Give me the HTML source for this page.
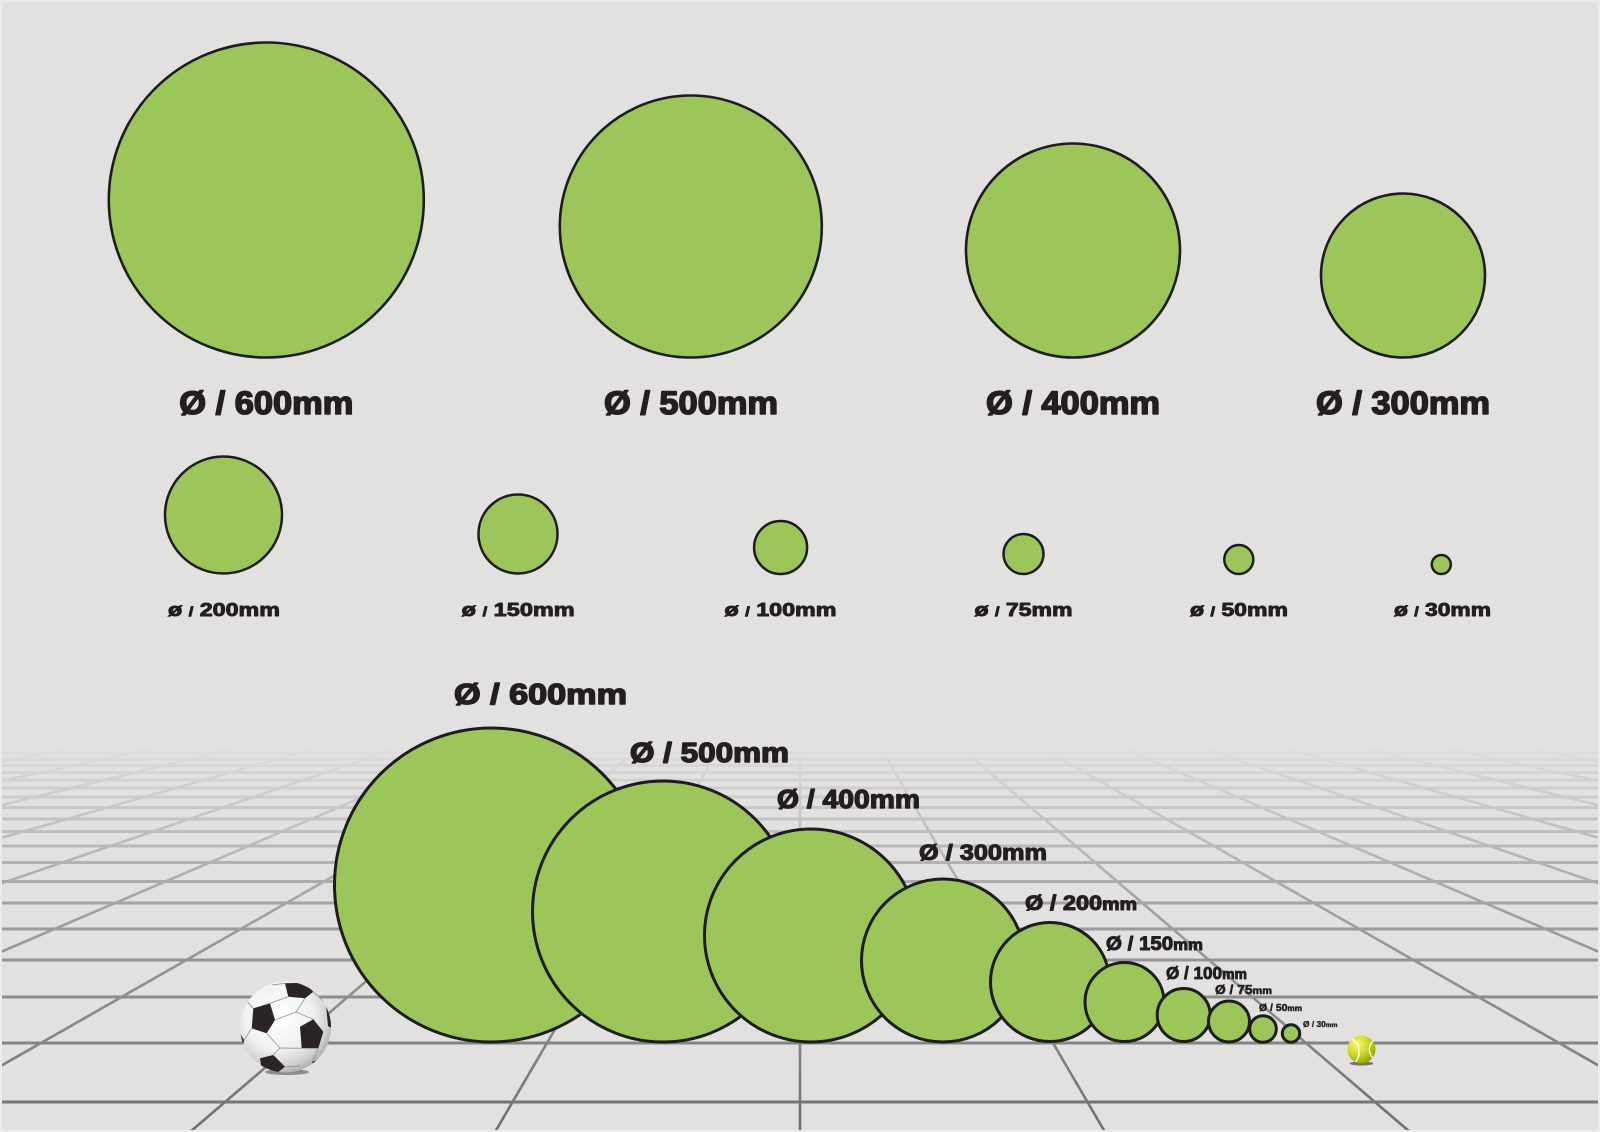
<!DOCTYPE html>
<html>
<head>
<meta charset="utf-8">
<style>
  html,body{margin:0;padding:0;background:#e2e1df;}
  svg{display:block;}
  .t{font-family:"Liberation Sans",Arial,sans-serif;font-weight:bold;fill:#231f20;stroke:#231f20;stroke-linejoin:round;}
</style>
</head>
<body>
<svg width="1600" height="1132" viewBox="0 0 1600 1132" xmlns="http://www.w3.org/2000/svg">
  <defs>
    <linearGradient id="fade" gradientUnits="userSpaceOnUse" x1="0" y1="740" x2="0" y2="1132">
      <stop offset="0" stop-color="#e2e1df" stop-opacity="1"/>
      <stop offset="0.013" stop-color="#e2e1df" stop-opacity="1"/>
      <stop offset="0.051" stop-color="#e2e1df" stop-opacity="0.93"/>
      <stop offset="0.102" stop-color="#e2e1df" stop-opacity="0.86"/>
      <stop offset="0.153" stop-color="#e2e1df" stop-opacity="0.8"/>
      <stop offset="0.23" stop-color="#e2e1df" stop-opacity="0.7"/>
      <stop offset="0.306" stop-color="#e2e1df" stop-opacity="0.6"/>
      <stop offset="0.408" stop-color="#e2e1df" stop-opacity="0.46"/>
      <stop offset="0.561" stop-color="#e2e1df" stop-opacity="0.32"/>
      <stop offset="0.773" stop-color="#e2e1df" stop-opacity="0.18"/>
      <stop offset="0.918" stop-color="#e2e1df" stop-opacity="0.05"/>
      <stop offset="1" stop-color="#e2e1df" stop-opacity="0"/>
    </linearGradient>
    <radialGradient id="ballg" cx="0.42" cy="0.38" r="0.62">
      <stop offset="0" stop-color="#ffffff"/>
      <stop offset="0.6" stop-color="#f1f1f1"/>
      <stop offset="0.9" stop-color="#cfcfcf"/>
      <stop offset="1" stop-color="#b5b5b5"/>
    </radialGradient>
    <radialGradient id="tennisg" cx="0.35" cy="0.3" r="0.75">
      <stop offset="0" stop-color="#f2f66e"/>
      <stop offset="0.45" stop-color="#d4e030"/>
      <stop offset="1" stop-color="#94a30c"/>
    </radialGradient>
    <clipPath id="ballclip"><circle cx="285.5" cy="1027" r="45.5"/></clipPath>
    <clipPath id="tclip"><circle cx="1361.5" cy="1049.5" r="14"/></clipPath>
  </defs>

  <rect x="0" y="0" width="1600" height="1132" fill="#e2e1df"/>

  <!-- floor grid -->
  <g stroke="#707070" fill="none">
    <g stroke-width="3">
      <line x1="0" y1="1102" x2="1600" y2="1102"/>
      <line x1="0" y1="1043" x2="1600" y2="1043"/>
      <line x1="0" y1="997" x2="1600" y2="997"/>
      <line x1="0" y1="960" x2="1600" y2="960"/>
      <line x1="0" y1="929" x2="1600" y2="929"/>
      <line x1="0" y1="903" x2="1600" y2="903"/>
      <line x1="0" y1="881.5" x2="1600" y2="881.5"/>
      <line x1="0" y1="862.5" x2="1600" y2="862.5"/>
      <line x1="0" y1="846" x2="1600" y2="846"/>
      <line x1="0" y1="831.5" x2="1600" y2="831.5"/>
      <line x1="0" y1="819" x2="1600" y2="819"/>
      <line x1="0" y1="807.5" x2="1600" y2="807.5"/>
      <line x1="0" y1="797" x2="1600" y2="797"/>
      <line x1="0" y1="788" x2="1600" y2="788"/>
      <line x1="0" y1="780" x2="1600" y2="780"/>
      <line x1="0" y1="772.5" x2="1600" y2="772.5"/>
      <line x1="0" y1="765.5" x2="1600" y2="765.5"/>
      <line x1="0" y1="759" x2="1600" y2="759"/>
      <line x1="0" y1="753" x2="1600" y2="753"/>
      <line x1="0" y1="748" x2="1600" y2="748"/>
    </g>
    <g stroke-width="2.6">
      <line x1="800" y1="745" x2="800" y2="1132"/>
      <line x1="878.9" y1="745" x2="1105" y2="1132"/>
      <line x1="721.1" y1="745" x2="495" y2="1132"/>
      <line x1="957.8" y1="745" x2="1410" y2="1132"/>
      <line x1="642.2" y1="745" x2="190" y2="1132"/>
      <line x1="1036.7" y1="745" x2="1715" y2="1132"/>
      <line x1="563.3" y1="745" x2="-115" y2="1132"/>
      <line x1="1115.6" y1="745" x2="2020" y2="1132"/>
      <line x1="484.4" y1="745" x2="-420" y2="1132"/>
      <line x1="1194.5" y1="745" x2="2325" y2="1132"/>
      <line x1="405.5" y1="745" x2="-725" y2="1132"/>
      <line x1="1273.4" y1="745" x2="2630" y2="1132"/>
      <line x1="326.6" y1="745" x2="-1030" y2="1132"/>
      <line x1="1352.3" y1="745" x2="2935" y2="1132"/>
      <line x1="247.7" y1="745" x2="-1335" y2="1132"/>
      <line x1="1431.2" y1="745" x2="3240" y2="1132"/>
      <line x1="168.8" y1="745" x2="-1640" y2="1132"/>
      <line x1="1510.1" y1="745" x2="3545" y2="1132"/>
      <line x1="89.9" y1="745" x2="-1945" y2="1132"/>
      <line x1="1589" y1="745" x2="3850" y2="1132"/>
      <line x1="11" y1="745" x2="-2250" y2="1132"/>
      <line x1="1667.9" y1="745" x2="4155" y2="1132"/>
      <line x1="-67.9" y1="745" x2="-2555" y2="1132"/>
    </g>
  </g>
  <rect x="0" y="700" width="1600" height="432" fill="url(#fade)"/>

  <!-- thin light frame -->
  <rect x="1" y="1" width="1598" height="1130" fill="none" stroke="#ebebea" stroke-width="2"/>

  <!-- top row circles -->
  <g fill="#9dc65a" stroke="#1d1d1b" stroke-width="2.6">
    <circle cx="266.3" cy="200" r="157.5"/>
    <circle cx="690.8" cy="226.5" r="131"/>
    <circle cx="1073" cy="250.5" r="107"/>
    <circle cx="1403" cy="275.5" r="82"/>
  </g>
  <!-- second row circles -->
  <g fill="#9dc65a" stroke="#1d1d1b" stroke-width="2.5">
    <circle cx="223.5" cy="515" r="58.5"/>
    <circle cx="518" cy="534" r="39.5"/>
    <circle cx="780.6" cy="547.5" r="26.5"/>
    <circle cx="1023.5" cy="554" r="20"/>
    <circle cx="1238.8" cy="559.5" r="14.5"/>
    <circle cx="1441.3" cy="564.5" r="9.5"/>
  </g>

  <!-- top labels -->
  <g class="t" font-size="32.5" stroke-width="1.6">
    <text x="179.3" y="414" textLength="174" lengthAdjust="spacingAndGlyphs">Ø / 600mm</text>
    <text x="604" y="414" textLength="174" lengthAdjust="spacingAndGlyphs">Ø / 500mm</text>
    <text x="986" y="414" textLength="174" lengthAdjust="spacingAndGlyphs">Ø / 400mm</text>
    <text x="1316" y="414" textLength="174" lengthAdjust="spacingAndGlyphs">Ø / 300mm</text>
  </g>
  <!-- second row labels -->
  <g class="t" font-size="18.6" stroke-width="0.9">
    <text x="168" y="616" textLength="112" lengthAdjust="spacingAndGlyphs">ø <tspan font-size="13">/</tspan> 200mm</text>
    <text x="461.7" y="616" textLength="113" lengthAdjust="spacingAndGlyphs">ø <tspan font-size="13">/</tspan> 150mm</text>
    <text x="724.5" y="616" textLength="112" lengthAdjust="spacingAndGlyphs">ø <tspan font-size="13">/</tspan> 100mm</text>
    <text x="974.5" y="616" textLength="98" lengthAdjust="spacingAndGlyphs">ø <tspan font-size="13">/</tspan> 75mm</text>
    <text x="1190" y="616" textLength="98" lengthAdjust="spacingAndGlyphs">ø <tspan font-size="13">/</tspan> 50mm</text>
    <text x="1394" y="616" textLength="97" lengthAdjust="spacingAndGlyphs">ø <tspan font-size="13">/</tspan> 30mm</text>
  </g>

  <!-- bottom perspective circles (largest first) -->
  <g fill="#9dc65a" stroke="#1d1d1b" stroke-width="3">
    <circle cx="491.5" cy="885" r="157"/>
    <circle cx="663" cy="911.5" r="130.5"/>
    <circle cx="811" cy="935.5" r="106.5"/>
    <circle cx="943" cy="960.5" r="81.5"/>
    <circle cx="1050" cy="982" r="59.5"/>
    <circle cx="1124.5" cy="1002" r="39.5"/>
    <circle cx="1183.7" cy="1015" r="26.5"/>
    <circle cx="1229" cy="1021.5" r="20.5"/>
    <circle cx="1263" cy="1029" r="13.3"/>
    <circle cx="1291" cy="1033.5" r="8.7"/>
  </g>

  <!-- bottom labels -->
  <g class="t">
    <text x="454" y="704" font-size="29" stroke-width="1.5" textLength="173" lengthAdjust="spacingAndGlyphs">Ø / 600mm</text>
    <text x="630" y="762" font-size="28" stroke-width="1.45" textLength="159" lengthAdjust="spacingAndGlyphs">Ø / 500mm</text>
    <text x="777" y="808" font-size="25.6" stroke-width="1.3" textLength="143" lengthAdjust="spacingAndGlyphs">Ø / 400mm</text>
    <text x="919" y="860" font-size="22" stroke-width="1.1" textLength="128" lengthAdjust="spacingAndGlyphs">Ø / 300mm</text>
    <text x="1025" y="910" font-size="21" stroke-width="1.05" textLength="112" lengthAdjust="spacingAndGlyphs">Ø / 200<tspan font-size="17.5">mm</tspan></text>
    <text x="1106" y="950" font-size="19.5" stroke-width="0.95" textLength="97" lengthAdjust="spacingAndGlyphs">Ø / 150<tspan font-size="16">mm</tspan></text>
    <text x="1166" y="979" font-size="17.7" stroke-width="0.85" textLength="81" lengthAdjust="spacingAndGlyphs">Ø / 100<tspan font-size="14.5">mm</tspan></text>
    <text x="1215" y="994" font-size="12.6" stroke-width="0.6" textLength="57" lengthAdjust="spacingAndGlyphs">Ø / 75<tspan font-size="10">mm</tspan></text>
    <text x="1259" y="1011" font-size="10.2" stroke-width="0.5" textLength="43" lengthAdjust="spacingAndGlyphs">Ø / 50<tspan font-size="8">mm</tspan></text>
    <text x="1303" y="1027" font-size="8" stroke-width="0.35" textLength="34.5" lengthAdjust="spacingAndGlyphs">Ø / 30<tspan font-size="6.3">mm</tspan></text>
  </g>

  <!-- soccer ball -->
  <ellipse cx="287" cy="1072" rx="22" ry="3" fill="#444" opacity="0.55"/>
  <circle cx="285.5" cy="1027" r="45.5" fill="url(#ballg)"/>
  <g clip-path="url(#ballclip)">
    <g stroke="#9a9a9a" stroke-width="0.9" fill="none">
      <line x1="270" y1="1003.3" x2="288.3" y2="996.7"/>
      <line x1="275" y1="1020" x2="296" y2="1012"/>
      <line x1="296" y1="1012" x2="305" y2="998.3"/>
      <line x1="296" y1="1012" x2="313.3" y2="1019.3"/>
      <line x1="313.3" y1="991.7" x2="326" y2="1004"/>
      <line x1="266.7" y1="1033.3" x2="280" y2="1048"/>
      <line x1="280" y1="1048" x2="301.7" y2="1048.3"/>
      <line x1="280" y1="1048" x2="273.3" y2="1055"/>
      <line x1="251.7" y1="1028.3" x2="244" y2="1040"/>
      <line x1="318.3" y1="1048.3" x2="312" y2="1062"/>
      <line x1="285" y1="1066.7" x2="300" y2="1066"/>
      <line x1="253.3" y1="1008.3" x2="246" y2="1000"/>
      <line x1="285" y1="983.3" x2="272" y2="985"/>
    </g>
    <g fill="#2b2424">
      <polygon points="285,983.3 305,982.7 313.3,991.7 305,998.3 288.3,996.7"/>
      <polygon points="253.3,1008.3 270,1003.3 275,1020 266.7,1033.3 251.7,1028.3"/>
      <polygon points="300,1026.7 313.3,1019.3 323.3,1031.7 318.3,1048.3 301.7,1048.3"/>
      <polygon points="260,1058.3 273.3,1055 285,1066.7 276.7,1073.3 261.7,1070"/>
      <polygon points="326,1004 334,1010 335,1030 328,1026"/>
      <polygon points="244,1040 238,1030 236,1050 242,1054"/>
      <polygon points="312,1062 322,1058 316,1070"/>
    </g>
  </g>

  <!-- tennis ball -->
  <ellipse cx="1361.5" cy="1063.5" rx="12" ry="2" fill="#444" opacity="0.7"/>
  <circle cx="1361.5" cy="1049.5" r="14" fill="url(#tennisg)"/>
  <g clip-path="url(#tclip)" fill="none" stroke="#ffffff" stroke-width="1.4" opacity="0.9">
    <path d="M1350,1038 C1360,1043 1362,1054 1355,1063"/>
    <path d="M1374,1040 C1367,1046 1368,1056 1376,1060"/>
  </g>
</svg>
</body>
</html>
